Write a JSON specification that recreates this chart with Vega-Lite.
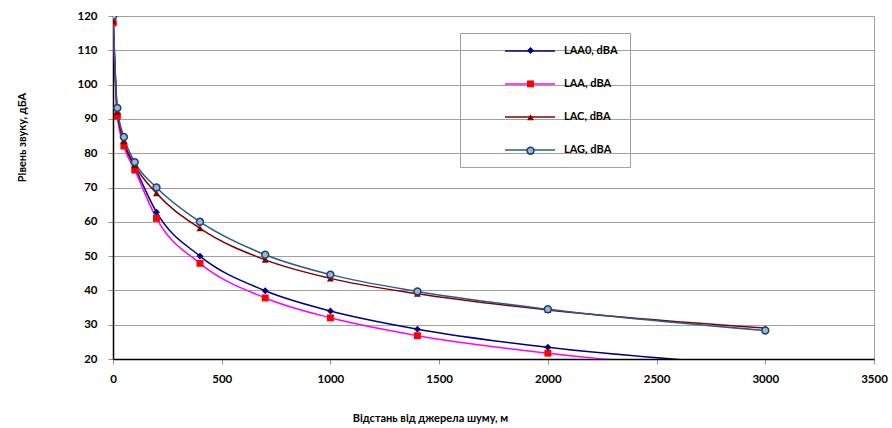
{
  "$schema": "https://vega.github.io/schema/vega-lite/v6.json",
  "width": 761,
  "height": 343,
  "autosize": "none",
  "padding": {"left": 113, "top": 16, "right": 18, "bottom": 69},
  "background": "white",
  "config": {
    "font": "Lato",
    "view": {"stroke": "#a0a0a0", "strokeWidth": 1},
    "axis": {
      "labelFont": "Lato",
      "labelFontWeight": "bold",
      "labelFontSize": 11.5,
      "labelColor": "#000000",
      "titleFont": "Lato",
      "titleFontWeight": "bold",
      "titleFontSize": 11,
      "titleColor": "#000000",
      "domainColor": "#000000",
      "domainWidth": 1.5,
      "tickColor": "#909090",
      "tickSize": 5
    },
    "legend": {"labelFont": "Lato", "labelFontWeight": "bold", "labelFontSize": 11, "labelColor": "#000000"}
  },
  "data": {
    "values": [
      {"d": 1, "series": "LAA0, dBA", "v": 118},
      {"d": 20, "series": "LAA0, dBA", "v": 91.5},
      {"d": 50, "series": "LAA0, dBA", "v": 83},
      {"d": 100, "series": "LAA0, dBA", "v": 76},
      {"d": 200, "series": "LAA0, dBA", "v": 62.8},
      {"d": 400, "series": "LAA0, dBA", "v": 50.0},
      {"d": 700, "series": "LAA0, dBA", "v": 39.9},
      {"d": 1000, "series": "LAA0, dBA", "v": 34.0},
      {"d": 1400, "series": "LAA0, dBA", "v": 28.7},
      {"d": 2000, "series": "LAA0, dBA", "v": 23.4},
      {"d": 3000, "series": "LAA0, dBA", "v": 18},
      {"d": 1, "series": "LAA, dBA", "v": 118},
      {"d": 20, "series": "LAA, dBA", "v": 90.8},
      {"d": 50, "series": "LAA, dBA", "v": 82.1},
      {"d": 100, "series": "LAA, dBA", "v": 75.1},
      {"d": 200, "series": "LAA, dBA", "v": 61.0},
      {"d": 400, "series": "LAA, dBA", "v": 47.9},
      {"d": 700, "series": "LAA, dBA", "v": 37.8},
      {"d": 1000, "series": "LAA, dBA", "v": 32.0},
      {"d": 1400, "series": "LAA, dBA", "v": 26.8},
      {"d": 2000, "series": "LAA, dBA", "v": 21.7},
      {"d": 3000, "series": "LAA, dBA", "v": 16.3},
      {"d": 1, "series": "LAC, dBA", "v": 118.5},
      {"d": 20, "series": "LAC, dBA", "v": 92},
      {"d": 50, "series": "LAC, dBA", "v": 83.5},
      {"d": 100, "series": "LAC, dBA", "v": 76.5},
      {"d": 200, "series": "LAC, dBA", "v": 68.3},
      {"d": 400, "series": "LAC, dBA", "v": 58.1},
      {"d": 700, "series": "LAC, dBA", "v": 48.9},
      {"d": 1000, "series": "LAC, dBA", "v": 43.5},
      {"d": 1400, "series": "LAC, dBA", "v": 39.0},
      {"d": 2000, "series": "LAC, dBA", "v": 34.3},
      {"d": 3000, "series": "LAC, dBA", "v": 29.0},
      {"d": 1, "series": "LAG, dBA", "v": 120},
      {"d": 20, "series": "LAG, dBA", "v": 93.2},
      {"d": 50, "series": "LAG, dBA", "v": 84.7},
      {"d": 100, "series": "LAG, dBA", "v": 77.4},
      {"d": 200, "series": "LAG, dBA", "v": 70.0},
      {"d": 400, "series": "LAG, dBA", "v": 60.0},
      {"d": 700, "series": "LAG, dBA", "v": 50.4},
      {"d": 1000, "series": "LAG, dBA", "v": 44.6},
      {"d": 1400, "series": "LAG, dBA", "v": 39.7},
      {"d": 2000, "series": "LAG, dBA", "v": 34.5},
      {"d": 3000, "series": "LAG, dBA", "v": 28.3}
    ]
  },
  "encoding": {
    "x": {
      "field": "d",
      "type": "quantitative",
      "scale": {"domain": [0, 3500], "nice": false, "zero": false},
      "axis": {
        "title": "Відстань від джерела шуму, м",
        "values": [0, 500, 1000, 1500, 2000, 2500, 3000, 3500],
        "format": "d",
        "grid": false,
        "labelPadding": 9,
        "titleX": 317,
        "titleY": 59,
        "titleAlign": "center",
        "titleBaseline": "middle",
        "labelFlush": false,
        "labelOverlap": false
      }
    },
    "y": {
      "field": "v",
      "type": "quantitative",
      "scale": {"domain": [20, 120], "nice": false, "zero": false},
      "axis": {
        "title": "Рівень звуку, дБА",
        "values": [20, 30, 40, 50, 60, 70, 80, 90, 100, 110, 120],
        "format": "d",
        "grid": true,
        "gridColor": "#a0a0a0",
        "gridWidth": 1,
        "labelPadding": 11,
        "titleX": -91,
        "titleY": 121,
        "titleAlign": "center",
        "titleBaseline": "middle",
        "labelFlush": false,
        "labelOverlap": false
      }
    }
  },
  "layer": [
    {
      "mark": {"type": "line", "interpolate": "monotone", "clip": true, "strokeWidth": 1.5},
      "encoding": {
        "stroke": {
          "field": "series",
          "type": "nominal",
          "sort": ["LAA0, dBA", "LAA, dBA", "LAC, dBA", "LAG, dBA"],
          "scale": {"range": ["#000080", "#FF00FF", "#800000", "#2B5A8C"]},
          "legend": {
            "title": null,
            "orient": "none",
            "legendX": 347,
            "legendY": 17,
            "padding": 12,
            "strokeColor": "#a0a0a0",
            "symbolType": "M-5,0H5",
            "symbolSize": 100,
            "symbolStrokeWidth": 1.5,
            "symbolOffset": 52,
            "labelOffset": 28,
            "rowPadding": 22,
            "labelExpr": "datum.label + '\u00a0\u00a0\u00a0\u00a0\u00a0\u00a0\u00a0\u00a0\u00a0\u00a0\u00a0\u00a0'",
            "zindex": 0
          }
        }
      }
    },
    {
      "transform": [{"filter": "datum.v >= 20"}],
      "mark": {"type": "point", "filled": true, "size": 48, "clip": true, "opacity": 1},
      "encoding": {
        "shape": {
          "field": "series",
          "type": "nominal",
          "sort": ["LAA0, dBA", "LAA, dBA", "LAC, dBA", "LAG, dBA"],
          "scale": {"range": ["diamond", "square", "triangle-up", "circle"]},
          "legend": null
        },
        "color": {
          "field": "series",
          "type": "nominal",
          "sort": ["LAA0, dBA", "LAA, dBA", "LAC, dBA", "LAG, dBA"],
          "scale": {"range": ["#000080", "#FF0000", "#800000", "#9DB5D0"]},
          "legend": {
            "title": null,
            "orient": "none",
            "legendX": 347,
            "legendY": 17,
            "padding": 12,
            "symbolSize": 48,
            "symbolOffset": 53,
            "labelExpr": "''",
            "rowPadding": 20.4,
            "symbolOpacity": 1,
            "symbolType": {"expr": "datum.value === 'LAA0, dBA' ? 'diamond' : datum.value === 'LAA, dBA' ? 'square' : datum.value === 'LAC, dBA' ? 'triangle-up' : 'circle'"},
            "symbolStrokeColor": {"expr": "datum.value === 'LAG, dBA' ? '#1F3F6F' : 'transparent'"},
            "symbolStrokeWidth": 1.5,
            "zindex": 1
          }
        },
        "stroke": {
          "condition": {"test": "datum.series === 'LAG, dBA'", "value": "#1F3F6F"},
          "value": null
        },
        "strokeWidth": {"value": 1.5}
      }
    }
  ]
}
